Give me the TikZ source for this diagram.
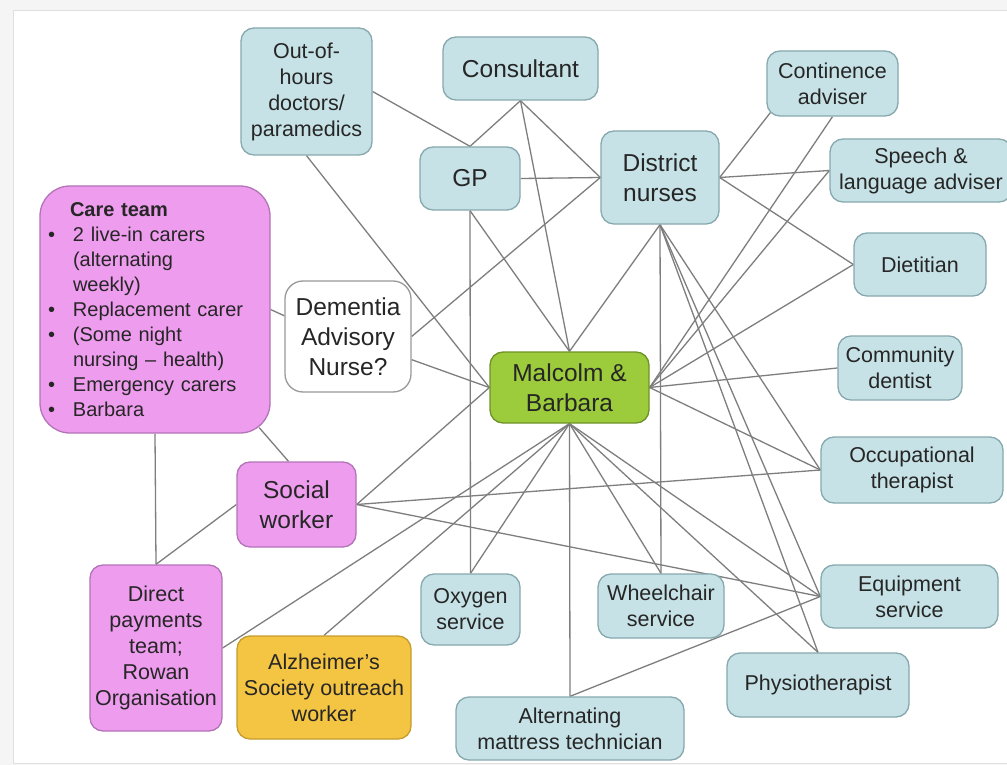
\documentclass[tikz,border=0pt]{standalone}
\usepackage{fontspec}
\setmainfont{Liberation Sans}
\usetikzlibrary{backgrounds}

\definecolor{bluefill}{HTML}{C6E2E6}
\definecolor{blueedge}{HTML}{86A9AE}
\definecolor{pinkfill}{HTML}{EE9CEE}
\definecolor{pinkedge}{HTML}{B374B8}
\definecolor{greenfill}{HTML}{9CCB3B}
\definecolor{greenedge}{HTML}{6E9228}
\definecolor{yellowfill}{HTML}{F4C443}
\definecolor{yellowedge}{HTML}{C69C2C}
\definecolor{linkgray}{HTML}{7E7E7E}

\begin{document}
\begin{tikzpicture}[x=1pt,y=-1pt,
  box/.style={rounded corners=13pt, line width=1.3pt, align=center, inner sep=0pt, text=black!85},
  health/.style={box, draw=blueedge, fill=bluefill},
  social/.style={box, draw=pinkedge, fill=pinkfill},
  client/.style={box, draw=greenedge, fill=greenfill},
  charity/.style={box, draw=yellowedge, fill=yellowfill},
  unsure/.style={box, draw=black!40, fill=white, rounded corners=18pt},
  sz/.style 2 args={minimum width=#1pt, minimum height=#2pt},
  big/.style={font=\fontsize{24.5}{30}\selectfont},
  small/.style={font=\fontsize{21.5}{26}\selectfont},
  link/.style={draw=linkgray, line width=1.3pt}]

  \useasboundingbox (0,0) rectangle (1007,765);

  \node[health,small,sz={131}{127}] (ooh) at (306.5,91.5) {Out-of-\\hours\\doctors/\\paramedics};
  \node[health,big,sz={155}{63}] (cons) at (520.5,68.5) {Consultant};
  \node[health,big,sz={100}{63}] (gp) at (470,178.5) {GP};
  \node[health,big,sz={118}{93}] (dn) at (660,177.5) {District\\nurses};
  \node[health,small,sz={131}{65}] (cont) at (832.5,83.5) {Continence\\adviser};
  \node[health,small,sz={182}{63}] (speech) at (921,170.5) {Speech \&\\language adviser};
  \node[health,small,sz={132}{63}] (diet) at (920,264.5) {Dietitian};
  \node[health,small,sz={124}{64}] (dent) at (900,368) {Community\\dentist};
  \node[health,small,sz={182}{66}] (ot) at (912,470) {Occupational\\therapist};
  \node[health,small,sz={177}{63}] (equip) at (909.5,596.5) {Equipment\\service};
  \node[health,small,sz={182}{64}] (physio) at (818,685) {Physiotherapist};
  \node[health,small,sz={228}{63}] (alt) at (570,728.5) {Alternating\\mattress technician};
  \node[health,small,sz={126}{64}] (wheel) at (661,606) {Wheelchair\\service};
  \node[health,small,sz={99}{71}] (oxy) at (470.5,609.5) {Oxygen\\service};
  \node[client,big,sz={159}{71}] (mb) at (569.5,387.5) {Malcolm \&\\Barbara};
  \node[unsure,big,sz={126}{111}] (dem) at (348,336.5) {Dementia\\Advisory\\Nurse?};
  \node[social,rounded corners=30pt,sz={230}{247},text width=214pt,align=left,
        font=\fontsize{20}{25}\selectfont] (care) at (155,309.5)
    {\hspace*{22pt}\textbf{Care team}\\
     \makebox[25pt][l]{\textbullet}2 live-in carers\\
     \hspace*{25pt}(alternating\\
     \hspace*{25pt}weekly)\\
     \makebox[25pt][l]{\textbullet}Replacement carer\\
     \makebox[25pt][l]{\textbullet}(Some night\\
     \hspace*{25pt}nursing – health)\\
     \makebox[25pt][l]{\textbullet}Emergency carers\\
     \makebox[25pt][l]{\textbullet}Barbara};
  \node[social,big,sz={119}{85}] (sw) at (296.5,504.5) {Social\\worker};
  \node[social,small,sz={132}{166}] (dp) at (156,648) {Direct\\payments\\team;\\Rowan\\Organisation};
  \node[charity,small,sz={174}{103}] (alz) at (324,687.5) {Alzheimer’s\\Society outreach\\worker};

  \coordinate (swtop) at ([xshift=-8pt]sw.north);
  \coordinate (carecorner) at ([yshift=6pt]care.-50);
  \coordinate (contcorner) at ([xshift=4pt,yshift=4pt]cont.south west);

  \begin{pgfonlayer}{background}
    \fill[black!4] (0,0) rectangle (1007,765);
    \filldraw[fill=white,draw=black!12] (13,10) rectangle (1010,763);
    \foreach \a/\b in {ooh.east/gp.north, ooh.south/mb.west, cons.south/gp.north,
        cons.south/mb.north, cons.south/dn.west, gp.east/dn.west, gp.south/mb.north,
        gp.south/oxy.north, dn.south/mb.north, dn.east/contcorner, dn.east/speech.west,
        dn.east/diet.west, dn.south/wheel.north, dn.south/ot.west, dn.south/equip.west,
        dn.south/physio.north, dem.east/dn.west, dem.-20/mb.west, care.east/dem.162,
        care.south/dp.north, carecorner/swtop, sw.west/dp.north, sw.east/mb.west,
        sw.east/ot.west, sw.east/equip.west, cont.south/mb.east, speech.west/mb.east,
        diet.west/mb.east, dent.west/mb.east, mb.east/ot.west, mb.south/dp.east,
        mb.south/alz.north, mb.south/oxy.north, mb.south/alt.north, mb.south/wheel.north,
        mb.south/equip.west, mb.south/physio.north, alt.north/equip.west}
      \draw[link] (\a) -- (\b);
  \end{pgfonlayer}
\end{tikzpicture}
\end{document}
